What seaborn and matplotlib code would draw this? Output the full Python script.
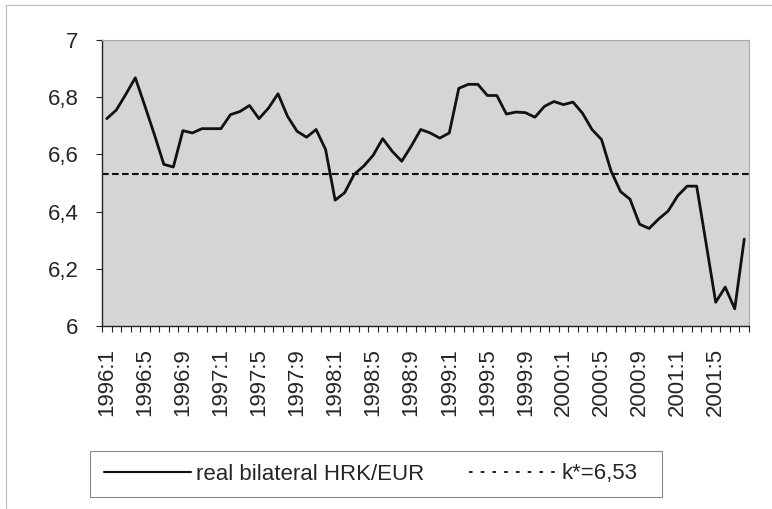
import numpy as np
import pandas as pd
import matplotlib
matplotlib.use("Agg")
import matplotlib.pyplot as plt
from matplotlib.lines import Line2D
from matplotlib.patches import Rectangle
import seaborn as sns

sns.set_theme(style="white")
plt.rcParams['font.family'] = ['Liberation Sans', 'DejaVu Sans']

# monthly data, 1996:1 - 2001:8
months = [f"{y}:{m}" for y in range(1996, 2002) for m in range(1, 13)][:68]
hrk_eur = [6.725, 6.755, 6.81, 6.868, 6.77, 6.67, 6.565, 6.556,
           6.683, 6.675, 6.69, 6.69, 6.69, 6.739, 6.75, 6.771,
           6.725, 6.762, 6.812, 6.733, 6.681, 6.66, 6.687, 6.617,
           6.44, 6.466, 6.53, 6.559, 6.597, 6.655, 6.611, 6.576,
           6.629, 6.687, 6.675, 6.657, 6.675, 6.831, 6.845, 6.845,
           6.806, 6.806, 6.741, 6.748, 6.746, 6.73, 6.768, 6.785,
           6.774, 6.783, 6.744, 6.687, 6.652, 6.542, 6.47, 6.443,
           6.356, 6.341, 6.374, 6.402, 6.455, 6.489, 6.489, 6.287,
           6.083, 6.136, 6.06, 6.304]
k_star = 6.53
yticks = [6, 6.2, 6.4, 6.6, 6.8, 7]
ytick_labels = ["6", "6,2", "6,4", "6,6", "6,8", "7"]
series_label = "real bilateral HRK/EUR"
k_label = "k*=6,53"

df = pd.DataFrame({"pos": np.arange(len(months)), "val": hrk_eur})

fig = plt.figure(figsize=(7.72, 5.09), dpi=100)
fig.patch.set_facecolor("white")
ax = fig.add_axes([102/772, 1-326/509, (749-102)/772, (326-40)/509])
ax.set_facecolor("#d5d5d5")

sns.lineplot(data=df, x="pos", y="val", ax=ax, color="#111111", lw=2.0)
ax.axhline(k_star, color="#111111", lw=1.5, dashes=(3.2, 1.6))

ax.set_ylim(6, 7)
ax.set_xlim(-0.5, len(months) - 0.5)
ax.set_yticks(yticks)
ax.set_yticklabels(ytick_labels)
ax.set_xticks(np.arange(0, len(months), 4))
ax.set_xticklabels(months[::4], rotation=90)
ax.set_xticks(np.arange(-0.5, len(months)), minor=True)
ax.tick_params(axis="x", which="major", length=0, pad=16, labelsize=16)
ax.tick_params(axis="x", which="minor", length=4.5, width=0.8, color="#222222", bottom=True)
ax.tick_params(axis="y", length=4, width=0.8, color="#222222", pad=13, labelsize=16, left=True)
ax.set_xlabel("")
ax.set_ylabel("")
ax.grid(False)

for s in ["left", "bottom"]:
    ax.spines[s].set_color("#222222")
    ax.spines[s].set_linewidth(1.0)
for s in ["top", "right"]:
    ax.spines[s].set_color("#aaaaaa")
    ax.spines[s].set_linewidth(0.8)

# legend box, drawn like the spreadsheet one
fig.patches.append(Rectangle((90/772, 1-497/509), (662-90)/772, 46/509,
                             transform=fig.transFigure, fill=False,
                             edgecolor="#888888", lw=0.8))
handles = [Line2D([], [], color="#111111", lw=1.5),
           Line2D([], [], color="#111111", lw=1.3, dashes=(2, 4.5))]
fig.legend(handles, [series_label, k_label], loc="center left",
           bbox_to_anchor=(104/772, 1-474/509), ncol=2, fontsize=16,
           handlelength=3.9, handletextpad=0.25, columnspacing=2.0,
           frameon=False, borderpad=0, borderaxespad=0)

fig.patches.append(Rectangle((6/772, 0), 1, 1-5/509, transform=fig.transFigure,
                             fill=False, edgecolor="#bbbbbb", lw=0.8))

fig.savefig("out.png", dpi=100)
